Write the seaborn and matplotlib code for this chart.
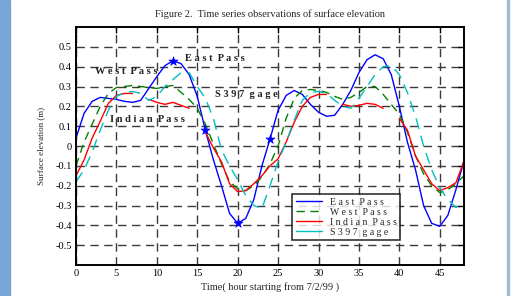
#!/usr/bin/env python3
"""
Time series of surface elevation at the three passes and the S397 gage.
"""
import numpy as np
import pandas as pd
import matplotlib
matplotlib.use('Agg')
import matplotlib.pyplot as plt
from matplotlib.patches import Rectangle
import seaborn as sns

# hours from 7/2/99
hours = list(range(49))

east_pass = [0.04, 0.165, 0.225, 0.245, 0.24, 0.235, 0.225, 0.22, 0.23, 0.29,
             0.35, 0.405, 0.43, 0.415, 0.36, 0.25, 0.08, -0.07, -0.2, -0.34,
             -0.39, -0.365, -0.27, -0.1, 0.035, 0.18, 0.255, 0.28, 0.26, 0.21,
             0.17, 0.15, 0.155, 0.21, 0.28, 0.37, 0.435, 0.46, 0.44, 0.36,
             0.2, 0.02, -0.12, -0.3, -0.39, -0.405, -0.35, -0.22, -0.075]

west_pass = [-0.1, 0.02, 0.11, 0.2, 0.265, 0.295, 0.3, 0.305, 0.3, 0.295,
             0.29, 0.3, 0.305, 0.27, 0.235, 0.19, 0.11, 0.01, -0.09, -0.18,
             -0.215, -0.225, -0.2, -0.155, -0.09, 0.0, 0.14, 0.24, 0.28, 0.285,
             0.28, 0.27, 0.25, 0.235, 0.245, 0.27, 0.3, 0.3, 0.26, 0.21,
             0.16, 0.07, -0.05, -0.14, -0.2, -0.235, -0.22, -0.19, -0.15]

indian_pass = [-0.15, -0.07, 0.04, 0.125, 0.215, 0.255, 0.265, 0.265, np.nan, 0.235,
               0.22, 0.21, 0.22, 0.205, 0.19, np.nan, 0.07, -0.01, -0.08, -0.19,
               -0.23, -0.225, -0.19, -0.15, -0.1, -0.065, 0.02, 0.12, 0.2, 0.245,
               0.26, 0.26, np.nan, 0.21, 0.2, 0.205, 0.215, 0.21, 0.19, np.nan,
               0.14, 0.08, -0.05, -0.12, -0.19, -0.225, -0.21, -0.185, -0.075]

s397_gage = [-0.18, -0.12, -0.03, 0.08, 0.18, 0.25, 0.27, 0.275, 0.265, 0.23,
             0.25, 0.3, 0.335, 0.37, 0.37, 0.3, 0.24, 0.14, -0.02, -0.1,
             -0.17, -0.25, -0.3, -0.315, -0.2, -0.08, 0.02, 0.13, 0.23, 0.27,
             0.275, 0.265, 0.23, 0.2, 0.19, 0.24, 0.3, 0.36, 0.4, 0.405,
             0.36, 0.27, 0.15, 0.0, -0.12, -0.21, -0.27, -0.31, -0.28]

marker_hours = [12, 16, 20, 24]

labels = ['East Pass', 'West Pass', 'Indian Pass', 'S397 gage']
colors = ['#0000ff', '#008000', '#ff0000', '#00bfbf']
dashes = ['', (6, 4), '', (8, 5)]


def spaced(s):
    # old matlab export spreads the letters out
    a, b = s.split(' ')
    return ' '.join(a) + '  ' + ' '.join(b)


sns.set_style('white')
plt.rcParams['font.family'] = ['Liberation Serif', 'DejaVu Serif']

fig = plt.figure(figsize=(5.14, 2.96), dpi=100)
fig.patch.set_facecolor('white')
fig.patches.append(Rectangle((0, 0), 10 / 514, 1, transform=fig.transFigure,
                             color='#76a6d8', zorder=0))
fig.patches.append(Rectangle((507 / 514, 0), 1.5 / 514, 1, transform=fig.transFigure,
                             color='#9fbbd8', zorder=0))

ax = fig.add_axes([76 / 514, 31 / 296, 388 / 514, 238 / 296])

frames = []
for name, vals in zip(labels, [east_pass, west_pass, indian_pass, s397_gage]):
    d = pd.DataFrame({'hour': hours, 'elev': vals, 'series': name})
    # break the line where data is missing
    d['seg'] = d['elev'].isna().cumsum()
    frames.append(d.dropna())
df = pd.concat(frames, ignore_index=True)

for name, color, dash in zip(labels, colors, dashes):
    sub = df[df['series'] == name]
    sns.lineplot(data=sub, x='hour', y='elev', units='seg', estimator=None,
                 color=color, lw=1.0, ax=ax, legend=False, sort=False)
    line_style = '-' if dash == '' else (0, dash)
    for ln in ax.lines[-sub['seg'].nunique():]:
        ln.set_linestyle(line_style)

stars = df[(df['series'] == 'East Pass') & (df['hour'].isin(marker_hours))]
sns.scatterplot(data=stars, x='hour', y='elev', marker='*', s=45,
                color='#0000ff', edgecolor='#0000ff', ax=ax, legend=False, zorder=5)

txt = dict(fontsize=7.5, fontweight='bold', color='#222222', va='center')
ax.text(13.5, 0.44, spaced('East Pass'), **txt)
ax.text(2.4, 0.375, spaced('West Pass'), **txt)
ax.text(17.2, 0.26, spaced('S397 gage'), **txt)
ax.text(4.2, 0.135, spaced('Indian Pass'), **txt)

yt = np.round(np.arange(-0.5, 0.51, 0.1), 1)
ax.set_xlim(0, 48)
ax.set_ylim(-0.6, 0.6)
ax.set_xticks(range(0, 50, 5))
ax.set_yticks(yt)
ax.set_yticklabels(['0' if abs(v) < 1e-9 else f'{v:g}' for v in yt])
ax.grid(True, color='#3a3a3a', linestyle=(0, (6, 4)), lw=1.0)
ax.tick_params(direction='in', length=4, width=1, top=True, right=True,
               labelsize=7.5, colors='black', pad=3)
for s in ax.spines.values():
    s.set_color('black')
    s.set_linewidth(1.4)

ax.set_xlabel('Time( hour starting from 7/2/99 )', fontsize=7.5, labelpad=3)
ax.set_ylabel('Surface elevation (m)', fontsize=6.5, labelpad=7)
ax.set_title('Figure 2.  Time series observations of surface elevation',
             fontsize=7.5, pad=7)

handles = [plt.Line2D([], [], color=c, lw=1.0, linestyle='-' if d == '' or i == 3 else (0, d))
           for i, (c, d) in enumerate(zip(colors, dashes))]
leg = ax.legend(handles, [spaced(l) for l in labels],
                loc='lower left', bbox_to_anchor=(0.557, 0.105),
                fontsize=7, frameon=True, fancybox=False, handlelength=2.7,
                borderpad=0.35, labelspacing=0.1, handletextpad=0.8, borderaxespad=0)
leg.get_frame().set_edgecolor('black')
leg.get_frame().set_linewidth(1.2)

fig.savefig('out.png', dpi=100)
print('saved out.png')
